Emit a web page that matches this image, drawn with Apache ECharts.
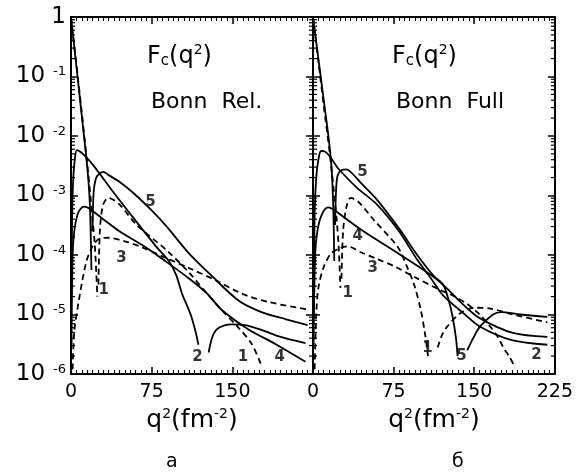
<!DOCTYPE html>
<html><head><meta charset="utf-8">
<script src="https://cdn.jsdelivr.net/npm/echarts@6/dist/echarts.min.js"></script>
<style>html,body{margin:0;padding:0;background:#fff}#c{width:576px;height:475px}</style>
</head><body><div id="c"></div>
<script>
// ---- axes ----
const xTickValues = [0, 75, 150, 225];
const yDecades = [1e-6, 1e-5, 1e-4, 1e-3, 1e-2, 1e-1, 1];
const minorMultipliers = [2, 3, 4, 5, 6, 7, 8, 9];

// ---- panel a: Bonn Rel. ([q^2, Fc]; null = gap at a zero of Fc) ----
const rel1 = [[0,1],[5,0.16],[10,0.025],[15,3.5e-3],[18,1e-3],[20,4e-4],[22,1.6e-4],[23.5,5e-5],[24.5,2e-5], null,
  [25.5,3.2e-5],[27,2.8e-4],[30,7.1e-4],[35,9.1e-4],[45,7.1e-4],[61,3.2e-4],[89,1.2e-4],[110,5e-5],[125,2.4e-5],[140,1.2e-5],[155,6.2e-6],[168,3.2e-6],[177,1.4e-6]];
const rel2 = [[0.5,3.2e-5],[1,4e-4],[2,1.8e-3],[3.5,4e-3],[5.5,5.8e-3],[9,5.4e-3],[14,4.4e-3],[18.5,3.6e-3],[24,2.7e-3],[40,1.1e-3],[58,4.2e-4],[79,1.4e-4],[91,7.9e-5],[98,4.5e-5],[103,2.3e-5],[108,1.4e-5],[112,9.1e-6],[116,5e-6],[118.5,3.1e-6], null,
  [128,2.3e-6],[131,4e-6],[135,5.5e-6],[142,6.5e-6],[150,6.8e-6],[162,6.6e-6],[177,5.5e-6],[195,4.2e-6],[218,3.3e-6]];
const rel3 = [[1.5,1.2e-6],[3,5e-6],[7,1.6e-5],[14,7.4e-5],[20,1.4e-4],[27,1.9e-4],[35,1.95e-4],[50,1.7e-4],[66,1.35e-4],[86,9.3e-5],[110,6e-5],[134,3.8e-5],[160,2.2e-5],[185,1.6e-5],[222,1.2e-5]];
const rel4 = [[0.5,3.2e-6],[1.5,1e-4],[3,2.5e-4],[6,4.8e-4],[9,6e-4],[12,6.5e-4],[16,6.2e-4],[20,5.5e-4],[30,4e-4],[45,2.5e-4],[68,1.4e-4],[86,8.3e-5],[110,4e-5],[126,2.3e-5],[140,1.2e-5],[165,5.6e-6],[190,3.2e-6],[218,1.6e-6]];
const rel5 = [[0,1],[5,0.15],[10,0.022],[15,3.2e-3],[17,1.1e-3],[18,4e-4],[19,5.6e-5], null,
  [20,2.5e-4],[21,1.1e-3],[23,1.9e-3],[26,2.3e-3],[30,2.5e-3],[35,2.2e-3],[45,1.7e-3],[58,1.1e-3],[75,5.6e-4],[89,3e-4],[109,1.1e-4],[129,4.8e-5],[156,1.7e-5],[177,1.1e-5],[200,8.3e-6],[220,6.6e-6]];
const relCurveLabels = [['5',74,7.8e-4],['3',47,8.9e-5],['1',30.5,2.6e-5],['2',117.6,1.9e-6],['1',160,1.9e-6],['4',194,1.9e-6]];

// ---- panel б: Bonn Full ----
const full1 = [[0,1],[5,0.18],[10,0.032],[15,6.3e-3],[19,1.4e-3],[22,4e-4],[24,1.26e-4],[25.5,2.8e-5], null,
  [26.5,4e-5],[28,2.5e-4],[31,6.3e-4],[35,9.1e-4],[42,7.9e-4],[56.5,3.9e-4],[79,1.35e-4],[88,6e-5],[94,3.2e-5],[100,1.26e-5],[104,5e-6],[107,2e-6], null,
  [116,2.8e-6],[120,4.5e-6],[125,6.3e-6],[137,1.05e-5],[150,1.3e-5],[165,1.26e-5],[186,1e-5],[218,7.4e-6]];
const full2 = [[0.5,1e-5],[1.5,5e-4],[3,2e-3],[5,4e-3],[7.5,5.6e-3],[11,5.5e-3],[15,4.7e-3],[19.5,3.6e-3],[23,2.9e-3],[40,1.4e-3],[60,6.9e-4],[80,2.5e-4],[97,8.3e-5],[110,4e-5],[121,2.1e-5],[140,1.05e-5],[155,6.3e-6],[185,3.7e-6],[218,3.1e-6]];
const full3 = [[1.5,1.2e-6],[3,1e-5],[5,2.8e-5],[10,6.3e-5],[17,1.07e-4],[25,1.3e-4],[32,1.4e-4],[45,1.1e-4],[60,8.5e-5],[77,6.3e-5],[94,4.3e-5],[118,2.6e-5],[132,2e-5],[143.5,1.5e-5],[155,1e-5],[165,6.2e-6],[172,4.2e-6],[177,2.8e-6],[183,1.9e-6],[187,1.4e-6]];
const full4 = [[0.5,3.2e-6],[2,1e-4],[4,2.5e-4],[8,4.7e-4],[14,6.3e-4],[19,5.8e-4],[26,4.7e-4],[47,2.5e-4],[79,1.07e-4],[112,4.3e-5],[125,2.7e-5],[140,1.45e-5],[155,8.7e-6],[186,4.9e-6],[218,4.2e-6]];
const full5 = [[0,1],[5,0.2],[10,0.04],[15,7.9e-3],[17.5,2.5e-3],[19,5e-4],[19.8,7.9e-5], null,
  [20.5,3.2e-4],[21.5,1.26e-3],[23,2.2e-3],[27,2.7e-3],[31,2.75e-3],[36,2.4e-3],[45,1.6e-3],[60,8.3e-4],[80,2.8e-4],[97,1e-4],[112,4.5e-5],[121,3.2e-5],[126,1.8e-5],[130,8.9e-6],[133,4e-6],[134.5,2e-6], null,
  [143.5,2.5e-6],[149,4e-6],[155.5,6.3e-6],[167.5,1e-5],[175,1.1e-5],[193,1e-5],[218,9.1e-6]];
const fullCurveLabels = [['5',46,2.5e-3],['4',41.7,2.1e-4],['3',55.6,6e-5],['1',32.4,2.3e-5],['1',106.5,2.7e-6],['5',138,2e-6],['2',208,2.1e-6]];

const panelTitles = ['Bonn  Rel.', 'Bonn  Full'];
const panelCaptions = ['а', 'б'];

// ---------------------------------------------------------------
const FONT = 'DejaVu Sans';
const panels = [
  {left: 71, width: 242, curves: [[rel1,true],[rel2,false],[rel3,true],[rel4,false],[rel5,false]], labels: relCurveLabels, showY: true},
  {left: 313, width: 242, curves: [[full1,true],[full2,false],[full3,true],[full4,false],[full5,false]], labels: fullCurveLabels, showY: false}
];
const TOP = 17, HEIGHT = 357;

function gapData(arr) {
  const out = [];
  arr.forEach((p, i) => {
    if (p === null) out.push([arr[i - 1][0], '-']);
    else out.push(p);
  });
  return out;
}
const minorVals = [];
yDecades.slice(0, -1).forEach(d => minorMultipliers.forEach(m => minorVals.push(m * d)));

const grids = [], xAxes = [], yAxes = [], series = [];
const axisLine = {show: true, onZero: false, lineStyle: {color: '#000', width: 2}};
const nameRich = {
  q: {fontFamily: FONT, fontSize: 25, color: '#000'},
  s: {fontFamily: FONT, fontSize: 14, color: '#000', padding: [0, 0, 13, 0]}
};

panels.forEach((pn, p) => {
  grids.push({left: pn.left, top: TOP, width: pn.width, height: HEIGHT, containLabel: false});
  const xa = (pos, labels) => ({
    gridIndex: p, type: 'value', min: xTickValues[0], max: xTickValues[xTickValues.length - 1], interval: 75,
    position: pos, axisLine: axisLine,
    axisTick: {show: true, inside: true, length: 7, lineStyle: {color: '#000', width: 1.5}},
    minorTick: {show: true, splitNumber: 15, length: 4, lineStyle: {color: '#000', width: 1}},
    splitLine: {show: false},
    axisLabel: labels ? {
      show: true, margin: 9, color: '#000', fontFamily: FONT, fontSize: 19,
      formatter: v => (p === 0 && v === 225) ? '' : String(v)
    } : {show: false},
    name: labels ? '{q|q}{s|2}{q|(fm}{s|-2}{q|)}' : '',
    nameLocation: 'middle', nameGap: 28,
    nameTextStyle: {rich: nameRich}
  });
  xAxes.push(xa('bottom', true));
  xAxes.push(xa('top', false));
  const ya = (pos, labels) => ({
    gridIndex: p, type: 'log', logBase: 10, min: yDecades[0], max: yDecades[yDecades.length - 1], splitNumber: 6,
    position: pos, axisLine: axisLine,
    axisTick: {show: true, inside: true, length: 7, lineStyle: {color: '#000', width: 1.5}},
    splitLine: {show: false},
    axisLabel: labels ? {
      show: true, margin: 5, color: '#000',
      formatter: v => {
        const e = Math.round(Math.log10(v));
        if (e === 0) return '{w|1}';
        return '{n|10}{s|' + e + '}';
      },
      rich: {
        n: {fontFamily: FONT, fontSize: 23, color: '#000'},
        w: {fontFamily: FONT, fontSize: 23, color: '#000', width: 32, align: 'right'},
        s: {fontFamily: FONT, fontSize: 13, color: '#000', padding: [0, 0, 9, 8]}
      }
    } : {show: false}
  });
  yAxes.push(ya('left', pn.showY));
  yAxes.push(ya('right', false));

  const xi = p * 2, yi = p * 2;
  pn.curves.forEach(([d, dashed]) => {
    series.push({
      type: 'line', xAxisIndex: xi, yAxisIndex: yi, data: gapData(d),
      showSymbol: false, symbol: 'none', smooth: 0.3, connectNulls: false, clip: true,
      lineStyle: {color: '#000', width: 1.8, type: dashed ? [6, 4] : 'solid'},
      silent: true, animation: false
    });
  });
  // log minor ticks on both vertical edges
  series.push({
    type: 'custom', xAxisIndex: xi, yAxisIndex: yi, silent: true, animation: false,
    data: minorVals.map(v => [0, v]),
    renderItem: (params, api) => {
      const v = api.value(1);
      const a = api.coord([xTickValues[0], v]);
      const b = api.coord([xTickValues[xTickValues.length - 1], v]);
      return {type: 'group', children: [
        {type: 'line', shape: {x1: a[0], y1: a[1], x2: a[0] + 4, y2: a[1]}, style: {stroke: '#000', lineWidth: 1.2}},
        {type: 'line', shape: {x1: b[0] - 4, y1: b[1], x2: b[0], y2: b[1]}, style: {stroke: '#000', lineWidth: 1.2}}
      ]};
    }
  });
  // curve number labels
  series.push({
    type: 'scatter', xAxisIndex: xi, yAxisIndex: yi, symbolSize: 0, silent: true, animation: false,
    data: pn.labels.map(l => ({name: l[0], value: [l[1], l[2]]})),
    label: {show: true, position: 'inside', formatter: q => q.name, color: '#000',
      fontFamily: FONT, fontSize: 15, fontWeight: 'bold'}
  });
});

const titleRich = {
  t: {fontFamily: FONT, fontSize: 24, color: '#000'},
  sub: {fontFamily: FONT, fontSize: 15, color: '#000', padding: [10, 0, 0, 0]},
  sup: {fontFamily: FONT, fontSize: 14, color: '#000', padding: [0, 0, 13, 0]}
};
const graphic = [];
[147, 392].forEach((x, i) => {
  graphic.push({type: 'text', left: x, top: 43, style: {text: '{t|F}{sub|c}{t|(q}{sup|2}{t|)}', rich: titleRich}});
  graphic.push({type: 'text', left: x + 4, top: 91, style: {text: panelTitles[i], fontFamily: FONT, fontSize: 22, fill: '#000'}});
});
[[172, panelCaptions[0]], [458, panelCaptions[1]]].forEach(([x, t]) => {
  graphic.push({type: 'text', left: x - 6, top: 453, style: {text: t, fontFamily: FONT, fontSize: 19, fill: '#000'}});
});

const chart = echarts.init(document.getElementById('c'), null, {renderer: 'canvas'});
chart.setOption({
  animation: false,
  backgroundColor: '#fff',
  grid: grids, xAxis: xAxes, yAxis: yAxes, series: series, graphic: graphic
});
</script></body></html>
